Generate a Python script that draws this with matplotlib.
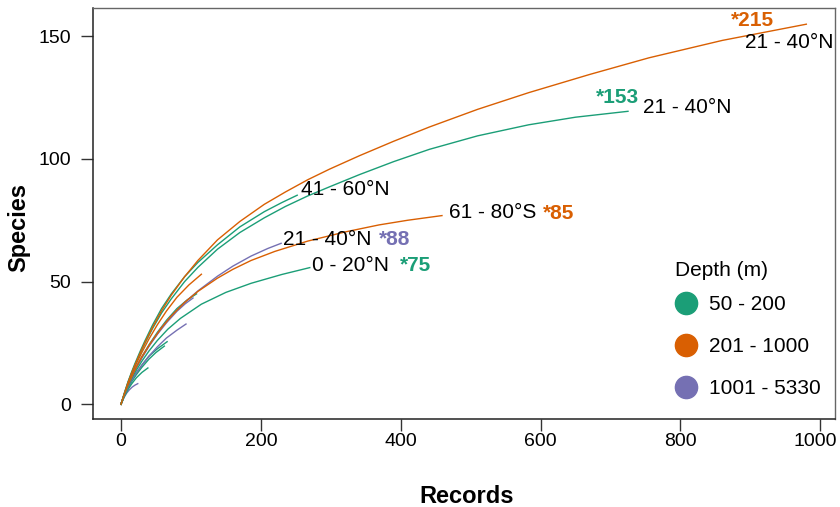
# rarefaction curves of species vs records, coloured by depth band

import matplotlib
matplotlib.use("Agg")
import matplotlib.pyplot as plt
import matplotlib.transforms as mtransforms
from matplotlib.lines import Line2D

plt.rcParams["font.family"] = ["Liberation Sans", "DejaVu Sans"]

# Dark2 colours for the depth bands
DEPTH_LABELS = ["50 - 200", "201 - 1000", "1001 - 5330"]
DEPTH_COLORS = ["#1b9e77", "#d95f02", "#7570b3"]

# curve points (records, species)
rec_a = [0, 5, 10, 15, 20, 27, 34, 45, 58, 72, 91, 110, 138, 170, 205, 235, 267, 298,
         341, 390, 441, 510, 583, 670, 755, 860, 980]
spp_a = [0, 4.5, 8.8, 12.5, 16.0, 20.6, 25.0, 31.3, 38.1, 44.5, 52.0, 58.6, 67.0, 74.5,
         81.5, 86.5, 91.5, 95.8, 101.3, 107.2, 113.0, 120.2, 127.0, 134.4, 141.2, 148.3, 154.9]

rec_b = [0, 5, 10, 15, 20, 27, 34, 45, 58, 72, 91, 110, 138, 170, 205, 235, 267, 298,
         341, 390, 441, 510, 583, 650, 725]
spp_b = [0, 4.6, 8.9, 12.6, 16.0, 20.5, 24.7, 30.8, 37.2, 43.0, 50.0, 55.8, 63.2, 70.0,
         76.0, 80.6, 84.9, 88.6, 93.6, 98.9, 103.9, 109.4, 113.9, 117.0, 119.4]

rec_c = [0, 5, 10, 15, 20, 27, 34, 45, 58, 72, 91, 110, 138, 170, 205, 230, 252]
spp_c = [0, 4.7, 9.1, 13.0, 16.6, 21.3, 25.7, 32.2, 39.0, 45.0, 52.0, 57.8, 65.0, 72.3,
         78.5, 82.2, 85.2]

rec_d = [0, 5, 10, 15, 22, 30, 43, 58, 72, 91, 110, 138, 160, 186, 220, 267, 320, 369, 410, 459]
spp_d = [0, 4.2, 7.8, 11.0, 15.2, 19.4, 25.2, 31.2, 36.0, 41.5, 46.0, 51.4, 55.0, 58.6,
         62.3, 66.5, 70.2, 73.1, 75.0, 76.9]

rec_e = [0, 5, 10, 15, 22, 30, 43, 58, 72, 91, 110, 138, 160, 186, 210, 229]
spp_e = [0, 4.2, 7.8, 11.0, 15.2, 19.4, 25.2, 31.2, 36.0, 41.5, 46.2, 52.2, 56.3, 60.4, 63.5, 65.6]

rec_f = [0, 5, 10, 15, 22, 30, 40, 52, 67, 85, 115, 150, 186, 230, 270]
spp_f = [0, 4.0, 7.4, 10.3, 13.9, 17.6, 21.7, 26.0, 30.6, 35.0, 40.8, 45.6, 49.3, 52.9, 55.7]

rec_g = [0, 5, 10, 15, 22, 30, 40, 52, 65, 80, 97, 115]
spp_g = [0, 4.3, 8.3, 11.9, 16.5, 21.2, 26.6, 32.4, 38.0, 43.6, 48.6, 53.0]

rec_h = [0, 5, 10, 15, 22, 30, 40, 52, 65, 80, 95, 108]
spp_h = [0, 4.1, 7.8, 11.1, 15.2, 19.4, 24.2, 29.3, 34.2, 39.0, 42.6, 45.0]

rec_n = [0, 5, 10, 15, 22, 30, 40, 52, 65, 80, 92, 103]
spp_n = [0, 4.0, 7.6, 10.8, 14.8, 18.9, 23.6, 28.5, 33.2, 37.9, 41.0, 43.3]

rec_i = [0, 5, 10, 15, 22, 30, 40, 52, 65, 80, 93]
spp_i = [0, 3.8, 7.0, 9.6, 12.8, 16.0, 19.6, 23.4, 27.0, 30.2, 32.7]

rec_j = [0, 5, 10, 15, 22, 30, 40, 52, 66]
spp_j = [0, 3.7, 6.8, 9.5, 12.7, 16.0, 19.6, 22.6, 25.5]

rec_k = [0, 5, 10, 15, 22, 30, 40, 50, 62]
spp_k = [0, 3.6, 6.6, 9.1, 12.1, 15.1, 18.4, 21.1, 23.7]

rec_l = [0, 5, 10, 15, 22, 30, 38.5]
spp_l = [0, 3.3, 6.0, 8.2, 10.8, 13.0, 14.8]

rec_m = [0, 4, 8, 12, 16, 20, 24]
spp_m = [0, 2.6, 4.5, 5.9, 7.0, 7.8, 8.4]

# (records, species, depth band index)
curves = [
    (rec_m, spp_m, 2), (rec_l, spp_l, 0), (rec_k, spp_k, 0), (rec_j, spp_j, 0),
    (rec_i, spp_i, 2), (rec_n, spp_n, 2), (rec_h, spp_h, 0), (rec_g, spp_g, 1),
    (rec_f, spp_f, 0), (rec_e, spp_e, 2), (rec_d, spp_d, 1), (rec_c, spp_c, 0),
    (rec_b, spp_b, 0), (rec_a, spp_a, 1),
]

# labels at the curve ends
label_curves = [rec_a, rec_b, rec_c, rec_d, rec_e, rec_f]
label_species = [spp_a, spp_b, spp_c, spp_d, spp_e, spp_f]
regions = ["21 - 40°N", "21 - 40°N", "41 - 60°N", "61 - 80°S", "21 - 40°N", "0 - 20°N"]
stars = ["*215", "*153", "", "*85", "*88", "*75"]
star_depth = [1, 0, 0, 1, 2, 0]

# text offsets in points (region label, star label)
region_offsets = [(-44, -13), (11, 3), (3, 4.3), (5, 2), (1.5, 3), (1.5, 1.5)]
star_offsets = [(-54, 3), (-23, 10), (0, 0), (73, 1.5), (70.5, 3), (65, 1.5)]

fig = plt.figure(figsize=(8.4, 5.07), dpi=100)
ax = fig.add_axes([93 / 840, 1 - 419 / 507, 742 / 840, 411 / 507])

for rec, spp, d in curves:
    ax.plot(rec, spp, color=DEPTH_COLORS[d], lw=1.0, solid_joinstyle="round")

for i in range(len(regions)):
    x_end = label_curves[i][-1]
    y_end = label_species[i][-1]
    ax.annotate(regions[i], xy=(x_end, y_end), xytext=region_offsets[i],
                textcoords="offset points", ha="left", va="center", fontsize=15, color="black")
    if stars[i] != "":
        ax.annotate(stars[i], xy=(x_end, y_end), xytext=star_offsets[i],
                    textcoords="offset points", ha="left", va="center", fontsize=15,
                    fontweight="bold", color=DEPTH_COLORS[star_depth[i]])

ax.set_xlim(-40, 1021)
ax.set_ylim(-6, 161.5)
ax.set_xticks([0, 200, 400, 600, 800, 1000])
ax.set_yticks([0, 50, 100, 150])
ax.tick_params(labelsize=14, length=8.6, width=1, color="#333333")
ax.tick_params(axis="x", pad=1.5)
ax.tick_params(axis="y", pad=7.5)

# nudge the last x label a little so it stays inside the figure
last = ax.get_xticklabels()[-1]
last.set_transform(last.get_transform() + mtransforms.ScaledTranslation(-5 / 100, 0, fig.dpi_scale_trans))

for side in ["left", "bottom"]:
    ax.spines[side].set_color("#222222")
    ax.spines[side].set_linewidth(1.1)
for side in ["top", "right"]:
    ax.spines[side].set_color("#666666")
    ax.spines[side].set_linewidth(1.0)

ax.set_xlabel("Records", fontsize=17, fontweight="bold")
ax.set_ylabel("Species", fontsize=17, fontweight="bold")
ax.xaxis.set_label_coords(0.503, -0.16)
ax.yaxis.set_label_coords(-0.085, 0.467)

# legend: title as its own text so the rows can be spaced like the reference
fig.text(675 / 840, 1 - 270 / 507, "Depth (m)", ha="left", va="center", fontsize=15)
handles = [Line2D([], [], marker="o", linestyle="none", markersize=16,
                  markerfacecolor=c, markeredgecolor=c) for c in DEPTH_COLORS]
leg = ax.legend(handles, DEPTH_LABELS, fontsize=15, frameon=False, loc="upper left",
                bbox_to_anchor=(675 / 840, 1 - 295 / 507), bbox_transform=fig.transFigure,
                borderpad=0, borderaxespad=0, handlelength=1.06, handletextpad=0.58,
                labelspacing=1.1)

fig.savefig("out.png", dpi=100)
